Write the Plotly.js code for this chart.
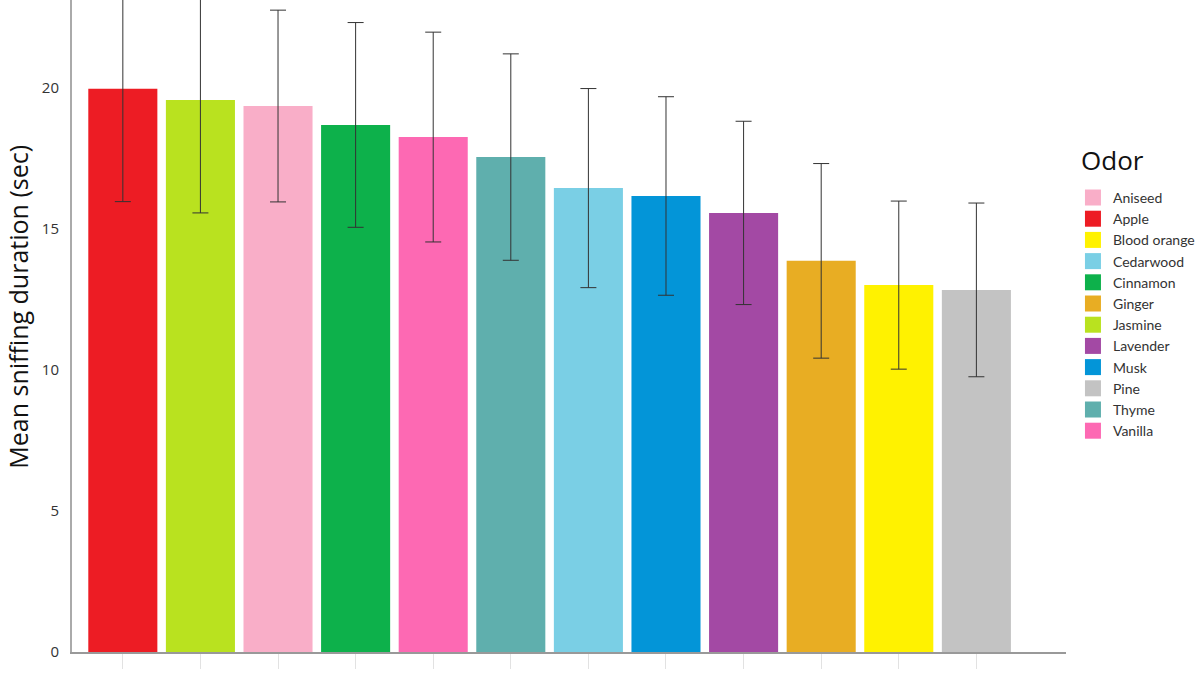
<!DOCTYPE html>
<html>
<head>
<meta charset="utf-8">
<script src="https://cdn.plot.ly/plotly-3.0.1.min.js"></script>
<style>html,body{margin:0;padding:0;background:#fff;}#chart{width:1200px;height:675px;}</style>
</head>
<body>
<div id="chart"></div>
<script>
// Order of bars along the x axis (descending mean)
const barOrder = ["Apple","Jasmine","Aniseed","Cinnamon","Vanilla","Thyme","Cedarwood","Musk","Lavender","Ginger","Blood orange","Pine"];
// Legend order (alphabetical)
const odors = ["Aniseed","Apple","Blood orange","Cedarwood","Cinnamon","Ginger","Jasmine","Lavender","Musk","Pine","Thyme","Vanilla"];
const means = [19.36, 19.97, 13.01, 16.45, 18.69, 13.87, 19.57, 15.57, 16.17, 12.84, 17.55, 18.26];
const errors = [3.40, 4.00, 2.98, 3.53, 3.63, 3.45, 4.00, 3.25, 3.52, 3.08, 3.66, 3.72];
const colors = ["#F9AEC8","#ED1C24","#FFF200","#7ACFE5","#0DB14B","#E8AD23","#B9E21F","#A349A4","#0395D8","#C3C3C3","#5FAFAD","#FD69B3"];
const yTicks = [0,5,10,15,20];

const traces = [];
odors.forEach((o,i)=>{
  traces.push({
    type:'bar', name:o, x:[o], y:[means[i]], width:0.89,
    marker:{color:colors[i]}, showlegend:false, hoverinfo:'x+y',
    error_y:{type:'data', array:[errors[i]], visible:true, color:'#333333', thickness:1, width:8}
  });
});
odors.forEach((o,i)=>{
  traces.push({
    type:'scatter', mode:'markers', name:o, x:[null], y:[null],
    marker:{symbol:'square', size:16, color:colors[i]}, showlegend:true, hoverinfo:'skip'
  });
});

const layout = {
  width:1200, height:675,
  margin:{l:72, r:132, t:0, b:23},
  paper_bgcolor:'#fff', plot_bgcolor:'#fff',
  barmode:'overlay',
  font:{family:'Open Sans, sans-serif', color:'#333'},
  xaxis:{
    type:'category', categoryorder:'array', categoryarray:barOrder,
    range:[-0.655, 12.155], showticklabels:false, ticks:'outside', ticklen:15, tickcolor:'#e2e2e2', tickwidth:1,
    showline:true, linecolor:'#999', linewidth:2, showgrid:false, zeroline:false, fixedrange:true
  },
  yaxis:{
    range:[0, 23.12], tickvals:yTicks, ticktext:yTicks.map(String), ticks:'', ticklabelstandoff:8,
    tickfont:{size:15, color:'#333'}, showline:true, linecolor:'#aaa', linewidth:2,
    showgrid:false, zeroline:false
  },
  legend:{
    x:1.007, xanchor:'left', y:0.721, yanchor:'top',
    font:{family:'Lato, sans-serif', size:14, color:'#333'}, itemsizing:'trace',
    bgcolor:'rgba(0,0,0,0)', tracegroupgap:0
  },
  annotations:[{
    text:'Mean sniffing duration (sec)', textangle:-90, xref:'paper', yref:'paper',
    x:-0.054, y:0.53, xanchor:'center', yanchor:'middle', showarrow:false,
    font:{size:25, color:'#111'}
  },{
    text:'Odor', xref:'paper', yref:'paper', x:1.013, y:0.755, xanchor:'left', yanchor:'middle',
    showarrow:false, font:{size:26, color:'#111'}
  }]
};
Plotly.newPlot('chart', traces, layout, {displayModeBar:false, staticPlot:true});
</script>
</body>
</html>
